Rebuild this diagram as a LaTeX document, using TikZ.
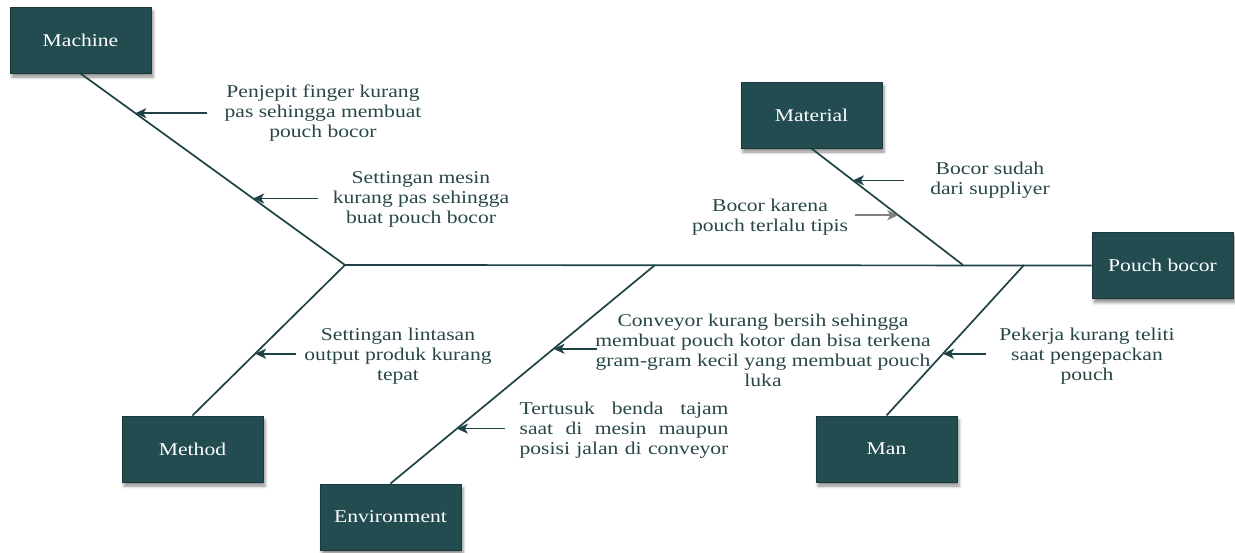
\documentclass[tikz,border=0pt]{standalone}
\usepackage{fontspec}
\setmainfont{Liberation Serif}
\usetikzlibrary{arrows.meta,calc,shadows.blur}
\definecolor{boxfill}{RGB}{34,76,80}
\definecolor{boxedge}{RGB}{24,56,60}
\definecolor{bone}{RGB}{30,66,70}
\definecolor{txt}{RGB}{40,70,72}
\definecolor{grayarr}{RGB}{128,128,128}
% one line of text, set a little wider than the font's own width
\newcommand{\wl}[1]{\scalebox{1.2}[1]{#1}}
\newcommand{\jl}[1]{\scalebox{1.2}[1]{\makebox[174pt][s]{#1}}}
\begin{document}
\begin{tikzpicture}[x=1pt,y=-1pt,
  cat/.style={draw=boxedge,line width=1pt,fill=boxfill,text=white,
    minimum width=141pt,minimum height=66pt,inner sep=0pt,
    blur shadow={shadow xshift=2pt,shadow yshift=-4pt,shadow blur radius=3pt,shadow opacity=45}},
  bonel/.style={draw=bone,line width=1.7pt},
  cause/.style={text=txt,align=center,inner sep=0pt},
  arr/.style={draw=bone,line width=1.7pt,-{Stealth[length=11pt,width=10pt,inset=3pt]}},
  garr/.style={draw=grayarr,line width=1.7pt,-{Stealth[length=11pt,width=10pt,inset=3pt]}},
  every node/.style={font=\fontsize{18}{20}\selectfont}]
\useasboundingbox (0,0) rectangle (1235,552);

% category boxes and the effect
\node[cat] (machine) at (80.5,40) {\wl{Machine}};
\node[cat] (material) at (811.5,115) {\wl{Material}};
\node[cat] (effect) at (1162.5,265.5) {\wl{Pouch bocor}};
\node[cat] (method) at (192.5,449) {\wl{Method}};
\node[cat] (env) at (390.5,517) {\wl{Environment}};
\node[cat] (man) at (886.5,449) {\wl{Man}};

% joints on the spine
\coordinate (j1) at (345,265);
\coordinate (j2) at (655,265);
\coordinate (j3) at (963,265);
\coordinate (j4) at (1024,265);

% spine and bones
\draw[bonel] (j1) -- (effect.west);
\draw[bonel] (machine.south) -- (j1);
\draw[bonel] (method.north) -- (j1);
\draw[bonel] (env.north) -- (j2);
\draw[bonel] (material.south) -- (j3);
\draw[bonel] (man.north) -- (j4);

% points where the cause arrows meet the bones
\coordinate (a1) at ($(machine.south)!0.2073!(j1)$);
\coordinate (a2) at ($(machine.south)!0.6528!(j1)$);
\coordinate (a3) at ($(material.south)!0.2735!(j3)$);
\coordinate (a4) at ($(material.south)!0.5726!(j3)$);
\coordinate (a5) at ($(method.north)!0.4106!(j1)$);
\coordinate (a6) at ($(env.north)!0.6164!(j2)$);
\coordinate (a7) at ($(env.north)!0.2511!(j2)$);
\coordinate (a8) at ($(man.north)!0.4106!(j4)$);

% arrow tails
\coordinate (t1) at ($(a1)+(72,0)$);
\coordinate (t2) at ($(a2)+(65,0)$);
\coordinate (t3) at ($(a3)+(51,0)$);
\coordinate (t4) at ($(a4)+(-43,0)$);
\coordinate (t5) at ($(a5)+(41,0)$);
\coordinate (t6) at ($(a6)+(43,0)$);
\coordinate (t7) at ($(a7)+(48,0)$);
\coordinate (t8) at ($(a8)+(43,0)$);

\draw[arr] (t1) -- (a1);
\draw[arr] (t2) -- (a2);
\draw[arr] (t3) -- (a3);
\draw[garr] (t4) -- (a4);
\draw[arr] (t5) -- (a5);
\draw[arr] (t6) -- (a6);
\draw[arr] (t7) -- (a7);
\draw[arr] (t8) -- (a8);

% causes
\node[cause] (c1) at (323,113) {\wl{Penjepit finger kurang}\\\wl{pas sehingga membuat}\\\wl{pouch bocor}};
\node[cause] (c2) at (421,199) {\wl{Settingan mesin}\\\wl{kurang pas sehingga}\\\wl{buat pouch bocor}};
\node[cause] (c3) at (990,180) {\wl{Bocor sudah}\\\wl{dari suppliyer}};
\node[cause] (c4) at (770,217) {\wl{Bocor karena}\\\wl{pouch terlalu tipis}};
\node[cause] (c5) at (398,356) {\wl{Settingan lintasan}\\\wl{output produk kurang}\\\wl{tepat}};
\node[cause] (c6) at (763,350) {\wl{Conveyor kurang bersih sehingga}\\\wl{membuat pouch kotor dan bisa terkena}\\\wl{gram-gram kecil yang membuat pouch}\\\wl{luka}};
\node[cause,align=left] (c7) at (624,430) {\jl{Tertusuk benda tajam}\\\jl{saat di mesin maupun}\\\jl{posisi jalan di conveyor}};
\node[cause] (c8) at (1087,356) {\wl{Pekerja kurang teliti}\\\wl{saat pengepackan}\\\wl{pouch}};
\end{tikzpicture}
\end{document}
